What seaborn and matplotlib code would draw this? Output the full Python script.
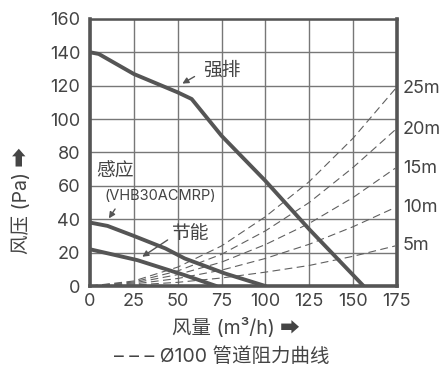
import numpy as np
import pandas as pd
import seaborn as sns
import matplotlib.pyplot as plt

# fan curves (airflow m3/h -> static pressure Pa)
strong_q = [0, 5, 25, 50, 58, 75, 100, 125, 156]
strong_p = [140, 139, 127, 116, 112, 90, 63, 34, 0]

sense_q = [0, 10, 25, 43, 54, 77, 100]
sense_p = [38, 36, 30, 22.5, 16.5, 7.5, 0]

eco_q = [0, 27, 54, 72]
eco_p = [22, 15.5, 6.5, 0]

# duct resistance curves, one per duct length
duct_q = [0, 25, 50, 75, 100, 125, 150, 174]
duct_5m = [0, 0.6, 2.2, 4.8, 8.3, 12.3, 17.8, 24]
duct_10m = [0, 1.2, 4.5, 9.5, 16.5, 25, 35.5, 47]
duct_15m = [0, 1.8, 6.8, 14.3, 24.8, 37.5, 53, 70.5]
duct_20m = [0, 2.4, 9, 19, 33, 50, 71, 93.5]
duct_25m = [0, 3, 11.3, 24, 41.5, 62.5, 88.5, 118]
duct_labels = ['5m', '10m', '15m', '20m', '25m']

x_ticks = [0, 25, 50, 75, 100, 125, 150, 175]
y_ticks = [0, 20, 40, 60, 80, 100, 120, 140, 160]

sns.set_theme(style="whitegrid")
plt.rcParams['font.family'] = ['Inter', 'Noto Sans CJK SC', 'DejaVu Sans']

dark = '#555555'
txt = '#444444'

fig = plt.figure(figsize=(4.41, 3.70), dpi=100)
ax = fig.add_axes([0.204, 0.227, 0.696, 0.722])

ducts = [duct_5m, duct_10m, duct_15m, duct_20m, duct_25m]
for vals in ducts:
    sns.lineplot(x=duct_q, y=vals, ax=ax, color='#606060', lw=0.8,
                 dashes=False, linestyle=(0, (7, 4)))

fans = [(strong_q, strong_p), (sense_q, sense_p), (eco_q, eco_p)]
for q, p in fans:
    df = pd.DataFrame({'q': q, 'p': p})
    sns.lineplot(data=df, x='q', y='p', ax=ax, color=dark, lw=2.8,
                 sort=False, solid_joinstyle='round')

ax.set_xlim(0, 175)
ax.set_ylim(0, 160)
ax.set_xticks(x_ticks)
ax.set_yticks(y_ticks)
ax.grid(True, color='#777777', lw=1.0)
ax.tick_params(length=0, labelsize=13, labelcolor=txt)
ax.tick_params(axis='y', pad=7)
ax.tick_params(axis='x', pad=5)
for side in ['left', 'bottom', 'right']:
    ax.spines[side].set_color(dark)
    ax.spines[side].set_linewidth(2.6)
ax.spines['top'].set_color(dark)
ax.spines['top'].set_linewidth(1.8)
ax.set_xlabel('')
ax.set_ylabel('')

# duct length labels on the right
for lab, vals in zip(duct_labels, ducts):
    ax.text(178.5, vals[-1], lab, fontsize=13, color=txt, va='center',
            ha='left', clip_on=False)

# curve labels
ax.text(64.4, 129, '强排', fontsize=13.5, color=txt, va='center')
ax.annotate('', xy=(51.3, 120.4), xytext=(61, 126.3),
            arrowprops=dict(arrowstyle='-|>', color=dark, lw=1, mutation_scale=9))
ax.text(3.8, 68.3, '感应', fontsize=13.5, color=txt, va='center')
ax.text(8.5, 54, '(VHB30ACMRP)', fontsize=10.5, color=txt, va='center')
ax.annotate('', xy=(9.9, 39.1), xytext=(15.2, 47.5),
            arrowprops=dict(arrowstyle='-|>', color=dark, lw=1, mutation_scale=9))
ax.text(46.5, 31, '节能', fontsize=13.5, color=txt, va='center')
ax.annotate('', xy=(28.5, 16.6), xytext=(45.6, 28.5),
            arrowprops=dict(arrowstyle='-|>', color=dark, lw=1, mutation_scale=9))

fig.text(0.535, 0.113, '风量 (m³/h) ➡', fontsize=14, color=txt,
         ha='center', va='center')
fig.text(0.05, 0.457, '风压 (Pa) ➡', fontsize=14, color=txt,
         ha='center', va='center', rotation=90)
fig.text(0.503, 0.035, '– – – Ø100 管道阻力曲线', fontsize=14, color=txt,
         ha='center', va='center')

fig.savefig('out.png', dpi=100)
